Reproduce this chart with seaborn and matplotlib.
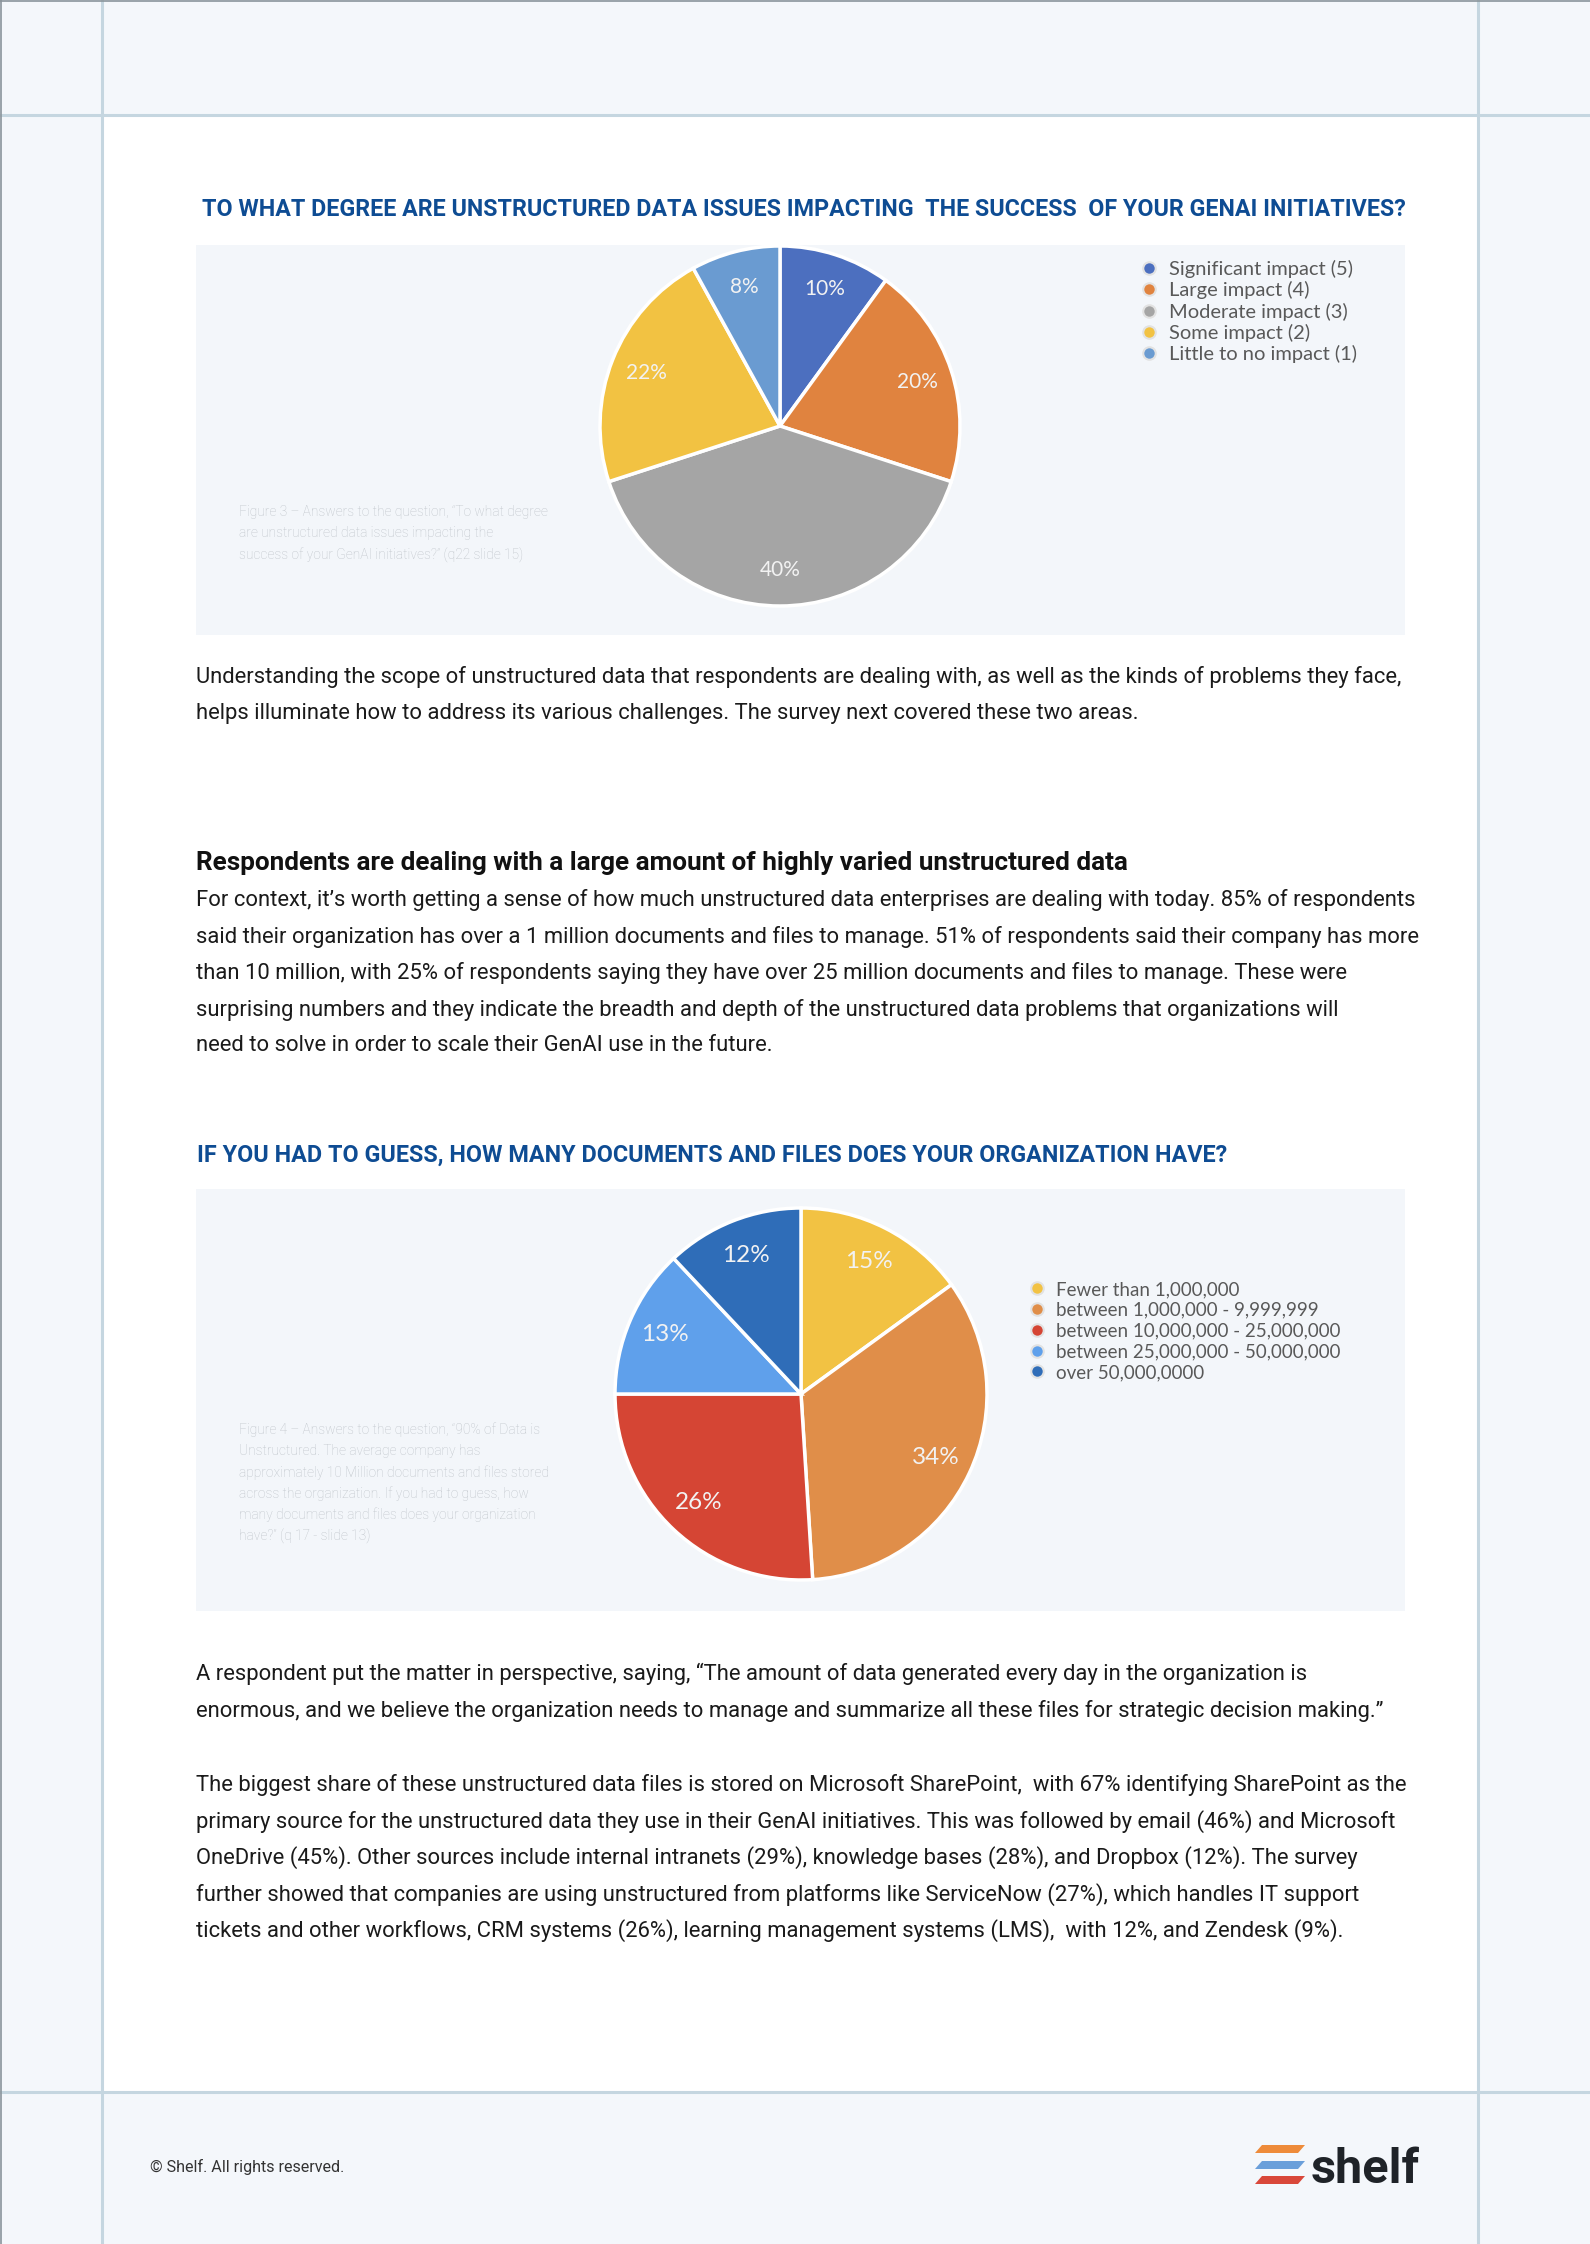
import numpy as np
import pandas as pd
import seaborn as sns
import matplotlib.pyplot as plt
from matplotlib.patches import Rectangle, Polygon
from matplotlib.lines import Line2D

W, H = 1590, 2244

# --- chart data -------------------------------------------------------------
impact_labels = ["Significant impact (5)", "Large impact (4)", "Moderate impact (3)",
                 "Some impact (2)", "Little to no impact (1)"]
impact_share = [10, 20, 40, 22, 8]
impact_colors = ["#4C6FBF", "#E0833F", "#A5A5A5", "#F2C242", "#6A9BD1"]

docs_labels = ["Fewer than 1,000,000", "between 1,000,000 - 9,999,999",
               "between 10,000,000 - 25,000,000", "between 25,000,000 - 50,000,000",
               "over 50,000,0000"]
docs_share = [15, 34, 26, 13, 12]
docs_colors = ["#F2C243", "#E08E49", "#D54534", "#5FA0EB", "#2F6DB8"]

# --- page text --------------------------------------------------------------
title1 = "TO WHAT DEGREE ARE UNSTRUCTURED DATA ISSUES IMPACTING  THE SUCCESS  OF YOUR GENAI INITIATIVES?"
title2 = "IF YOU HAD TO GUESS, HOW MANY DOCUMENTS AND FILES DOES YOUR ORGANIZATION HAVE?"
caption1 = ["Figure 3 \u2013 Answers to the question, \u201cTo what degree",
            "are unstructured data issues impacting the",
            "success of your GenAI initiatives?\u201d (q22 slide 15)"]
caption2 = ["Figure 4 \u2013 Answers to the question, \u201c90% of Data is",
            "Unstructured. The average company has",
            "approximately 10 Million documents and files stored",
            "across the organization. If you had to guess, how",
            "many documents and files does your organization",
            "have?\u201d (q 17 - slide 13)"]
para1 = ["Understanding the scope of unstructured data that respondents are dealing with, as well as the kinds of problems they face,",
         "helps illuminate how to address its various challenges. The survey next covered these two areas."]
heading = "Respondents are dealing with a large amount of highly varied unstructured data"
para2 = ["For context, it\u2019s worth getting a sense of how much unstructured data enterprises are dealing with today. 85% of respondents",
         "said their organization has over a 1 million documents and files to manage. 51% of respondents said their company has more",
         "than 10 million, with 25% of respondents saying they have over 25 million documents and files to manage. These were",
         "surprising numbers and they indicate the breadth and depth of the unstructured data problems that organizations will",
         "need to solve in order to scale their GenAI use in the future."]
para3 = ["A respondent put the matter in perspective, saying, \u201cThe amount of data generated every day in the organization is",
         "enormous, and we believe the organization needs to manage and summarize all these files for strategic decision making.\u201d"]
para4 = ["The biggest share of these unstructured data files is stored on Microsoft SharePoint,  with 67% identifying SharePoint as the",
         "primary source for the unstructured data they use in their GenAI initiatives. This was followed by email (46%) and Microsoft",
         "OneDrive (45%). Other sources include internal intranets (29%), knowledge bases (28%), and Dropbox (12%). The survey",
         "further showed that companies are using unstructured from platforms like ServiceNow (27%), which handles IT support",
         "tickets and other workflows, CRM systems (26%), learning management systems (LMS),  with 12%, and Zendesk (9%)."]

sns.set_theme(style="white")
plt.rcParams['font.family'] = ['Roboto', 'DejaVu Sans']

fig = plt.figure(figsize=(W / 100, H / 100), dpi=100)
fig.patch.set_facecolor('#F4F7FB')


def fx(x):
    return x / W


def fy(y):
    return 1 - y / H


def box(x0, y0, x1, y1, **kw):
    fig.add_artist(Rectangle((fx(x0), fy(y1)), (x1 - x0) / W, (y1 - y0) / H,
                             transform=fig.transFigure, zorder=-2, **kw))


def line(x0, y0, x1, y1, **kw):
    fig.add_artist(Line2D([fx(x0), fx(x1)], [fy(y0), fy(y1)], transform=fig.transFigure,
                          zorder=-1, **kw))


def txt(x, y, s, **kw):
    kw.setdefault('va', 'center')
    fig.text(fx(x), fy(y), s, **kw)


def lines_at(x, y0, step, rows, **kw):
    for i, s in enumerate(rows):
        txt(x, y0 + i * step, s, **kw)


# page frame
box(102, 115, 1478, 2092, facecolor='white', edgecolor='none')
grid_col = '#C5D6E0'
for gx in (102, 1478):
    line(gx, 0, gx, H, color=grid_col, lw=2.2)
for gy in (115, 2092):
    line(0, gy, W, gy, color=grid_col, lw=2.2)
line(0.5, 0, 0.5, H, color='#8A949B', lw=1.2)
line(0, 0.5, W, 0.5, color='#8A949B', lw=1.2)

# chart panels
panel_col = '#F3F6FA'
box(196, 245, 1405, 635, facecolor=panel_col, edgecolor='none')
box(196, 1189, 1405, 1611, facecolor=panel_col, edgecolor='none')

title_kw = dict(fontweight='bold', color='#0E4C93')
txt(202, 209, title1, fontsize=16.75, **title_kw)
txt(197, 1155, title2, fontsize=16.85, **title_kw)

label_font = ['Lato', 'DejaVu Sans']


def pie_chart(cx, cy, r, share, colors, fs):
    ax = fig.add_axes([fx(cx - r), fy(cy + r), 2 * r / W, 2 * r / H])
    ax.set_zorder(3)
    wedges, _, pcts = ax.pie(share, colors=colors, startangle=90, counterclock=False,
                             autopct='%.0f%%', pctdistance=0.8, radius=1,
                             wedgeprops=dict(edgecolor='white', linewidth=2.5),
                             textprops=dict(color='#F2F2F2', fontsize=fs, family=label_font))
    for w in wedges:
        w.set_clip_on(False)
    ax.set_xlim(-1, 1)
    ax.set_ylim(-1, 1)
    ax.axis('off')
    return ax


pie_chart(780, 426, 180, impact_share, impact_colors, 15)
pie_chart(801, 1394, 186, docs_share, docs_colors, 17.5)


def legend(labels, colors, x, y, fs, spacing):
    handles = [Line2D([], [], marker='o', ls='', markersize=9, markerfacecolor=c,
                      markeredgecolor='#E2E2E2', markeredgewidth=1.5) for c in colors]
    fig.legend(handles, labels, loc='upper left', bbox_to_anchor=(fx(x), fy(y)),
               frameon=False, borderpad=0, borderaxespad=0, handlelength=1.0,
               handletextpad=0.5, labelspacing=spacing,
               prop=dict(family=label_font, size=fs), labelcolor='#595959')


legend(impact_labels, impact_colors, 1139, 260, 14.5, 0.16)
legend(docs_labels, docs_colors, 1028, 1281, 13.5, 0.2)

cap_kw = dict(fontsize=9.9, fontweight='light', color='#BEC3C9')
lines_at(239, 512, 21.5, caption1, **cap_kw)
lines_at(239, 1430, 21.2, caption2, **cap_kw)

body_kw = dict(fontsize=15.8, color='#1A1A1A')
lines_at(196, 677, 36.5, para1, **body_kw)
txt(196, 863, heading, fontsize=18.8, fontweight='bold', color='#111111')
lines_at(196, 900, 36.5, para2, **body_kw)
lines_at(196, 1674, 36.5, para3, **body_kw)
lines_at(196, 1785, 36.5, para4, **body_kw)

# footer
txt(150, 2167, "\u00a9 Shelf. All rights reserved.", fontsize=11.6, color='#333333')
stripes = [('#EE8B3A', 2145), ('#6A9FDA', 2161), ('#D9483A', 2176)]
for col, sy in stripes:
    pts = [(1262, sy), (1305, sy), (1298, sy + 8), (1255, sy + 8)]
    fig.add_artist(Polygon([(fx(a), fy(b)) for a, b in pts], closed=True,
                           transform=fig.transFigure, facecolor=col, edgecolor='none'))
txt(1311, 2183, "shelf", va='baseline', fontsize=35, fontweight='bold', color='#1F2328')

fig.savefig('out.png', dpi=100, facecolor=fig.get_facecolor())
